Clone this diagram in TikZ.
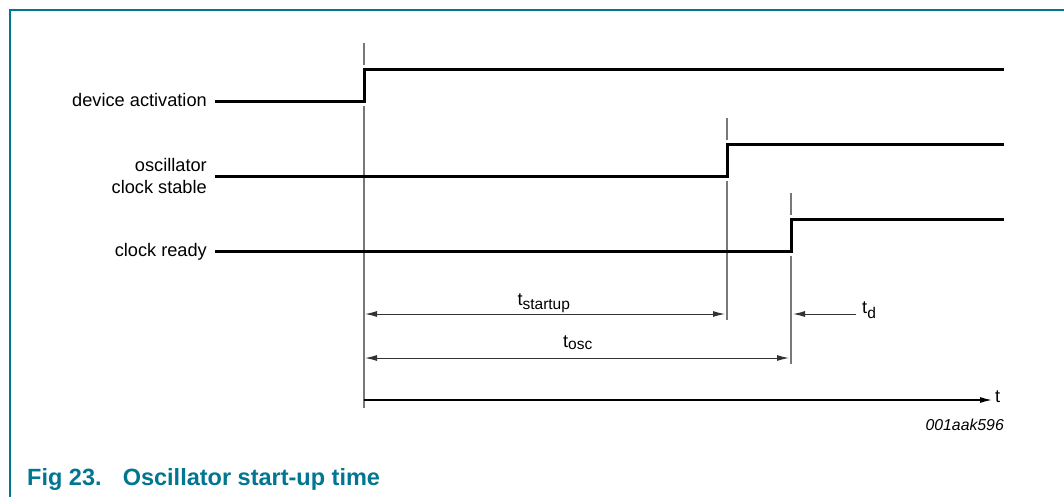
\documentclass[tikz,border=0pt]{standalone}
\usepackage{fontspec}
\setmainfont{Liberation Sans}
\usetikzlibrary{arrows.meta}
\definecolor{nxpteal}{RGB}{0,118,145}
\definecolor{guide}{RGB}{120,120,120}
\begin{document}
\begin{tikzpicture}[x=1pt,y=-1pt,
  signal/.style={line width=3pt,line join=miter,line cap=butt},
  guideline/.style={draw=guide,line width=1.1pt},
  dimarrow/.style={line width=1pt,draw=black!80,{Latex[length=12pt,width=6pt]}-{Latex[length=12pt,width=6pt]}},
  onearrow/.style={line width=1pt,draw=black!80,-{Latex[length=12pt,width=6pt]}},
  lbl/.style={font=\fontsize{18.2}{22}\selectfont,inner sep=0pt,align=right},
  tlbl/.style={font=\fontsize{18.2}{22}\selectfont,inner sep=0pt}]
\useasboundingbox (0,0) rectangle (1064,496);
% frame
\draw[nxpteal,line width=1.3pt] (10,497) -- (10,10) -- (1065,10);
% labels
\node[lbl,anchor=base east] (lda) at (207,106) {device activation};
\node[lbl,anchor=base east] (lcs1) at (207,171) {oscillator};
\node[lbl,anchor=base east] (lcs2) at (207,193) {clock stable};
\node[lbl,anchor=base east] (lcr) at (207,256) {clock ready};
% coordinates
\coordinate (a0) at (215,101); \coordinate (a1) at (364,101);
\coordinate (a2) at (364,69);  \coordinate (a3) at (1004,69);
\coordinate (b0) at (215,176); \coordinate (b1) at (727,176);
\coordinate (b2) at (727,144); \coordinate (b3) at (1004,144);
\coordinate (c0) at (215,251); \coordinate (c1) at (791,251);
\coordinate (c2) at (791,219); \coordinate (c3) at (1004,219);
% guide lines
\draw[guideline] (364,43) -- (364,65);
\draw[guideline] (364,106) -- (364,408);
\draw[guideline] (727,118) -- (727,140);
\draw[guideline] (727,181) -- (727,320);
\draw[guideline] (791,193) -- (791,215);
\draw[guideline] (791,256) -- (791,364);
% signals
\draw[signal] (a0) -- (a1) -- (a2) -- (a3);
\draw[signal] (b0) -- (b1) -- (b2) -- (b3);
\draw[signal] (c0) -- (c1) -- (c2) -- (c3);
% dimension arrows
\coordinate (s0) at (365,314); \coordinate (s1) at (725,314);
\coordinate (o0) at (365,358); \coordinate (o1) at (789,358);
\coordinate (d0) at (856,314); \coordinate (d1) at (793,314);
\draw[dimarrow] (s0) -- (s1);
\draw[dimarrow] (o0) -- (o1);
\draw[onearrow] (d0) -- (d1);
\node[tlbl,anchor=base] (tst) at (544,305) {t\textsubscript{\fontsize{15.5}{16}\selectfont startup}};
\node[tlbl,anchor=base] (tos) at (578,347) {t\textsubscript{\fontsize{15.5}{16}\selectfont osc}};
\node[tlbl,anchor=base west] (td) at (862,313) {t\textsubscript{\fontsize{15.5}{16}\selectfont d}};
% time axis
\coordinate (t0) at (364,400); \coordinate (t1) at (992,400);
\draw[line width=1.3pt,-{Latex[length=12pt,width=6pt]}] (t0) -- (t1);
\node[tlbl,anchor=mid west] (tt) at (995,400) {t};
\node[font=\fontsize{15.8}{18}\selectfont\itshape,anchor=base east,inner sep=0pt] (code) at (1004,430) {001aak596};
% caption
\node[font=\fontsize{23.5}{26}\selectfont\bfseries,text=nxpteal,anchor=base west,inner sep=0pt] (cap) at (27,485) {Fig 23.\hspace{0.9em}Oscillator start-up time};
\end{tikzpicture}
\end{document}
